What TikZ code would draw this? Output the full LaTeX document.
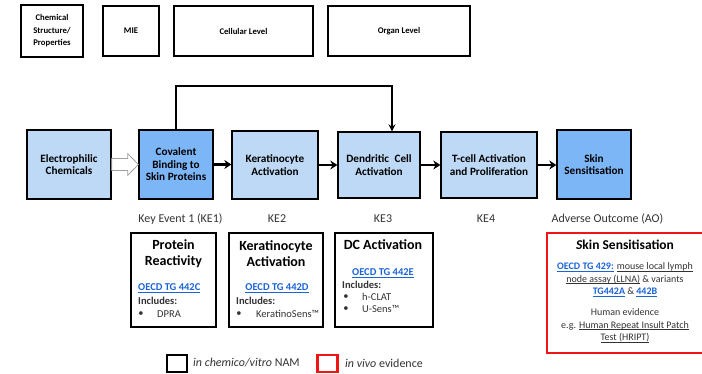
\documentclass[tikz,border=0pt]{standalone}
\usepackage{fontspec}
\setmainfont{Carlito}
\usetikzlibrary{arrows.meta,calc}

\definecolor{boxlight}{HTML}{BDD9F5}
\definecolor{boxdark}{HTML}{7DB6F7}
\definecolor{linkblue}{HTML}{1A63D8}
\definecolor{evred}{HTML}{F01414}
\definecolor{bodytext}{HTML}{333333}

% underline drawn at a fixed offset below the baseline
\newlength\ulwidth
\newcommand\ulin[1]{\settowidth\ulwidth{#1}\rlap{\rule[-1.6pt]{\ulwidth}{0.55pt}}#1}
% hyperlink-like text
\newcommand\lnk[1]{\textcolor{linkblue}{\bfseries\ulin{#1}}}

\begin{document}
\begin{tikzpicture}[x=1pt,y=-1pt,
  levelbox/.style={draw, line width=1.6pt, align=center, inner sep=2pt,
    font=\fontsize{8.7}{12.5}\selectfont\bfseries},
  eventbox/.style={draw, line width=1.3pt, fill=boxlight, align=center, inner sep=1pt,
    font=\fontsize{11.2}{12.5}\selectfont\bfseries},
  keybox/.style={eventbox, fill=boxdark},
  flow/.style={line width=2.4pt, -{Stealth[length=7pt,width=9pt]}},
  feedback/.style={line width=1.5pt, -{Stealth[length=7pt,width=7pt]}},
  stage/.style={font=\fontsize{12}{14}\selectfont, text=bodytext},
  assaybox/.style={draw, line width=2.2pt},
  evidbox/.style={draw=evred, line width=2pt},
  atitle/.style={align=center, inner sep=0pt, font=\fontsize{14}{16}\selectfont\bfseries},
  atext/.style={inner sep=0pt, font=\fontsize{10.5}{12.7}\selectfont, text=bodytext},
  abold/.style={atext, font=\fontsize{10.5}{12.7}\selectfont\bfseries},
  legsq/.style={draw, line width=2.2pt, minimum width=20pt, minimum height=17pt, inner sep=0pt},
  legtext/.style={atext, anchor=west, font=\fontsize{12}{14}\selectfont},
]
\useasboundingbox (0,0) rectangle (702,374);

% biological level headers
\node[levelbox, minimum width=62pt, minimum height=52pt] (chem) at (52,31) {Chemical\\Structure/\\Properties};
\node[levelbox, minimum width=56pt, minimum height=50pt] (mie) at (131,31) {MIE};
\node[levelbox, minimum width=139pt, minimum height=50pt] (cell) at (243.5,31) {Cellular Level};
\node[levelbox, minimum width=142pt, minimum height=50pt] (organ) at (399,31) {Organ Level};

% adverse outcome pathway
\node[eventbox, minimum width=84pt, minimum height=69pt] (elec) at (69,164.5) {Electrophilic\\Chemicals};
\node[keybox, minimum width=74pt, minimum height=69pt] (cov) at (176,164.5) {Covalent\\Binding to\\Skin Proteins};
\node[eventbox, minimum width=86pt, minimum height=68pt] (kera) at (275,165) {Keratinocyte\\Activation};
\node[eventbox, minimum width=82pt, minimum height=66pt] (dend) at (379,165) {Dendritic\enspace Cell\\Activation};
\node[eventbox, minimum width=96pt, minimum height=66pt] (tcell) at (489,165) {T-cell Activation\\and Proliferation};
\node[keybox, minimum width=74pt, minimum height=69pt] (skin) at (594,164.5) {Skin\\Sensitisation};

% hollow arrow from the chemicals to the molecular initiating event
\draw[draw=gray!75, fill=white, line width=0.8pt]
  ($(elec.east)+(0,-6)$) -- ($(elec.east)+(16,-6)$) -- ($(elec.east)+(16,-11)$)
  -- (cov.west) -- ($(elec.east)+(16,11)$) -- ($(elec.east)+(16,6)$)
  -- ($(elec.east)+(0,6)$) -- cycle;

\draw[flow] (cov.east) -- (cov.east -| kera.west);
\draw[flow] (kera.east) -- (kera.east -| dend.west);
\draw[flow] (dend.east) -- (dend.east -| tcell.west);
\draw[flow] (tcell.east) -- (tcell.east -| skin.west);

\coordinate (fbtop) at (392,86);
\draw[feedback] (cov.north) |- (fbtop) -- (fbtop |- dend.north);

% stage labels
\node[stage] (ke1) at (180.5,219) {Key Event 1 (KE1)};
\node[stage] (ke2) at (277,219) {KE2};
\node[stage] (ke3) at (383,219) {KE3};
\node[stage] (ke4) at (486,219) {KE4};
\node[stage] (ao) at (607.5,219) {Adverse Outcome (AO)};

% in chemico / in vitro methods
\node[assaybox, minimum width=85pt, minimum height=94pt] (prot) at (173.5,280) {};
\node[atitle] (prottitle) at (173.5,254) {Protein\\Reactivity};
\node[atext, anchor=west] (protlink) at (138,288) {\lnk{OECD TG 442C}};
\node[abold, anchor=west] (protinc) at (138,301) {Includes:};
\node[atext] (protb) at (141,314) {•};
\node[atext, anchor=west] (proti) at (157,314) {DPRA};

\node[assaybox, minimum width=94pt, minimum height=94pt] (kerab) at (276,280) {};
\node[atitle] (keratitle) at (276,254) {Keratinocyte\\Activation};
\node[atext] (keralink) at (277,288) {\lnk{OECD TG 442D}};
\node[abold, anchor=west] (kerainc) at (236,301) {Includes:};
\node[atext] (kerab1) at (239,314) {•};
\node[atext, anchor=west] (keri) at (256,314) {KeratinoSens™};

\node[assaybox, minimum width=98pt, minimum height=94pt] (dc) at (384,280) {};
\node[atitle] (dctitle) at (383,245) {DC Activation};
\node[atext] (dclink) at (383,273) {\lnk{OECD TG 442E}};
\node[abold, anchor=west] (dcinc) at (342,285) {Includes:};
\node[atext] (dcb1) at (346,297) {•};
\node[atext, anchor=west] (dci1) at (362,297) {h-CLAT};
\node[atext] (dcb2) at (346,309) {•};
\node[atext, anchor=west] (dci2) at (362,309) {U-Sens™};

% in vivo evidence
\node[evidbox, minimum width=157pt, minimum height=120pt] (vivo) at (625.5,293) {};
\node[atitle, font=\fontsize{13.5}{16}\selectfont\bfseries] (vivotitle) at (625,245) {\textit{S}kin Sensitisation};
\node[atext, align=center, font=\fontsize{10}{12.7}\selectfont] (vivollna) at (625,279.5)
  {\lnk{OECD TG 429:} \ulin{mouse local lymph}\\\ulin{node assay (LLNA)} \& variants\\\lnk{TG442A} \& \lnk{442B}};
\node[atext, align=center, font=\fontsize{10}{12.7}\selectfont] (vivohum) at (625,325.5)
  {Human evidence\\e.g. \ulin{Human Repeat Insult Patch}\\\ulin{Test (HRIPT)}};

% legend
\node[legsq] (legnam) at (177,363.5) {};
\node[legtext] (legnamtxt) at (193,363) {\textit{in chemico/vitro} NAM};
\node[legsq, draw=evred] (legvivo) at (327.5,363.5) {};
\node[legtext] (legvivotxt) at (345,363) {\textit{in vivo} evidence};
\end{tikzpicture}
\end{document}
